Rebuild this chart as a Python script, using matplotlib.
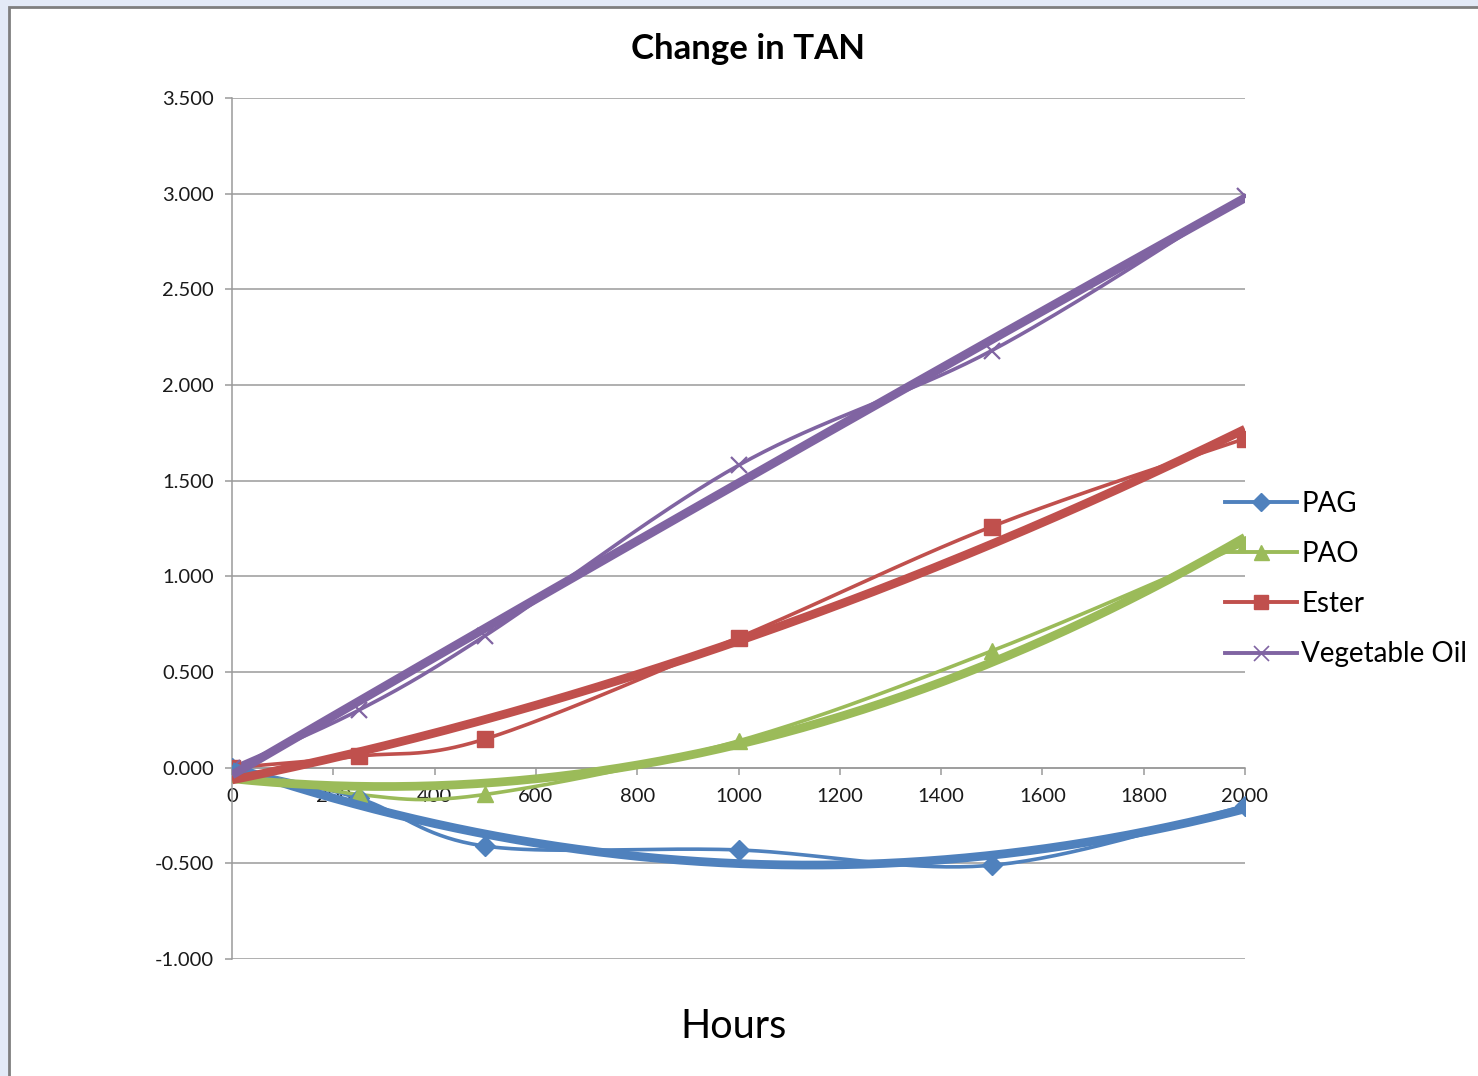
import numpy as np
import matplotlib
matplotlib.use("Agg")
import matplotlib.pyplot as plt
from matplotlib.patches import Rectangle

# ---- data ----
hours = [0, 250, 500, 1000, 1500, 2000]
pag = [0.0, -0.16, -0.41, -0.43, -0.51, -0.20]
pao = [0.0, -0.14, -0.14, 0.14, 0.61, 1.17]
ester = [0.0, 0.06, 0.15, 0.68, 1.26, 1.72]
veg = [0.0, 0.30, 0.69, 1.58, 2.18, 2.99]
series_names = ["PAG", "PAO", "Ester", "Vegetable Oil"]
x_ticks = list(range(0, 2001, 200))
y_ticks = [-1.0, -0.5, 0.0, 0.5, 1.0, 1.5, 2.0, 2.5, 3.0, 3.5]

colors = ["#4F81BD", "#9BBB59", "#C0504D", "#8064A2"]
markers = ["D", "^", "s", "x"]
msizes = [10, 12, 11.5, 12]

plt.rcParams['font.family'] = ['Lato', 'DejaVu Sans']


def smooth(x, y, n=40):
    pts = np.column_stack([np.asarray(x, float), np.asarray(y, float)])
    out = []
    t = np.linspace(0, 1, n)[:, None]
    for i in range(len(pts) - 1):
        p0 = pts[i - 1] if i > 0 else pts[i]
        p1 = pts[i]
        p2 = pts[i + 1]
        p3 = pts[i + 2] if i + 2 < len(pts) else pts[i + 1]
        c1 = p1 + (p2 - p0) / 6.0
        c2 = p2 - (p3 - p1) / 6.0
        b = ((1 - t) ** 3) * p1 + 3 * ((1 - t) ** 2) * t * c1 + 3 * (1 - t) * t ** 2 * c2 + t ** 3 * p2
        out.append(b if i == 0 else b[1:])
    b = np.vstack(out)
    return b[:, 0], b[:, 1]


fig = plt.figure(figsize=(14.78, 10.76), dpi=100)
fig.patch.set_facecolor("#e3eaf7")
bg = Rectangle((9 / 1478, -0.05), 1.2, 1 - 7 / 1076 + 0.05,
               transform=fig.transFigure, facecolor="white",
               edgecolor="#7f7f7f", linewidth=2, zorder=-10)
fig.add_artist(bg)

ax = fig.add_axes([232 / 1478, 1 - 959 / 1076, (1245 - 232) / 1478, (959 - 98) / 1076])
ax.set_zorder(1)
ax.set_facecolor("none")

data = [pag, pao, ester, veg]
for vals, name, c, m, ms in zip(data, series_names, colors, markers, msizes):
    sx, sy = smooth(hours, vals)
    ax.plot(sx, sy, color=c, lw=2.6, zorder=3)
    ax.plot(hours, vals, linestyle="none", marker=m, markersize=ms, color=c,
            markeredgewidth=1.6 if m == "x" else 1, zorder=4)
    ax.plot([], [], color=c, lw=2.8, marker=m, markersize=ms * 0.9,
            markeredgewidth=1.2 if m == "x" else 1, label=name)
    coef = np.polyfit(hours, vals, 2)
    tx = np.linspace(0, 2000, 200)
    ax.plot(tx, np.polyval(coef, tx), color=c, lw=6.3, solid_capstyle="butt", zorder=5)

ax.set_xlim(0, 2000)
ax.set_ylim(-1.0, 3.5)
ax.set_xticks(x_ticks)
ax.set_xticklabels([str(v) for v in x_ticks])
ax.set_yticks(y_ticks)
ax.set_yticklabels(["%.3f" % v for v in y_ticks])
ax.grid(axis="y", color="#9a9a9a", lw=1.1, zorder=1)
ax.set_axisbelow(True)

for s in ["top", "right"]:
    ax.spines[s].set_visible(False)
ax.spines["bottom"].set_position(("data", 0))
ax.spines["bottom"].set_color("#9a9a9a")
ax.spines["left"].set_color("#9a9a9a")
ax.spines["bottom"].set_linewidth(1.1)
ax.spines["left"].set_linewidth(1.1)
ax.tick_params(axis="both", colors="#9a9a9a", labelcolor="#1a1a1a", labelsize=14.5,
               length=5, width=1.1)
ax.tick_params(axis="x", direction="out", pad=9.5)
ax.tick_params(axis="y", direction="out", pad=8)

fig.text(748 / 1478, 1 - 49 / 1076, "Change in TAN", ha="center", va="center",
         fontsize=25, fontweight="bold", color="black")
fig.text(734 / 1478, 1 - 1026 / 1076, "Hours", ha="center", va="center",
         fontsize=28.5, color="black")

leg = fig.legend(loc="center left", bbox_to_anchor=(1225 / 1478, 1 - 579 / 1076),
                 frameon=False, fontsize=20, handlelength=2.6, handletextpad=0.15,
                 labelspacing=0.87, borderpad=0, borderaxespad=0, numpoints=1)

fig.savefig("out.png", dpi=100, facecolor=fig.get_facecolor())
